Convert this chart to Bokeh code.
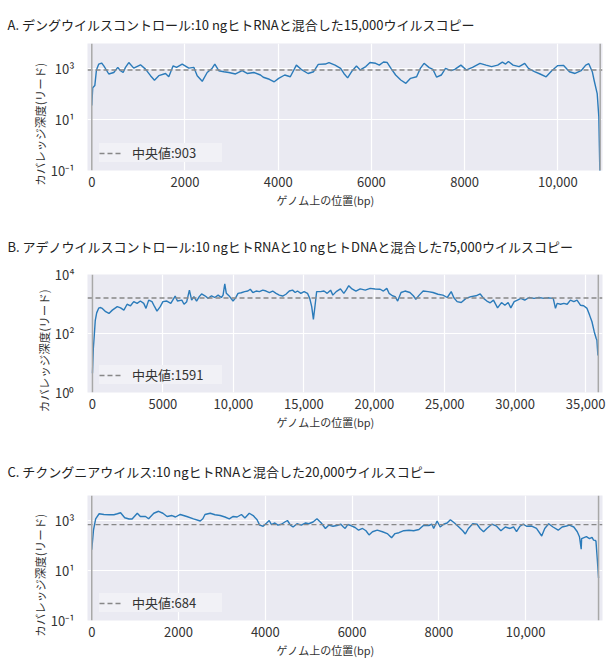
from bokeh.plotting import figure
from bokeh.models import FixedTicker, Span, Title, Legend, LegendItem, Range1d
from bokeh.layouts import column
from bokeh.embed import file_html
from bokeh.resources import INLINE

FONT = "Noto Sans CJK JP"

# ---------------- data ----------------
title_a = "A. デングウイルスコントロール:10 ngヒトRNAと混合した15,000ウイルスコピー"
title_b = "B. アデノウイルスコントロール:10 ngヒトRNAと10 ngヒトDNAと混合した75,000ウイルスコピー"
title_c = "C. チクングニアウイルス:10 ngヒトRNAと混合した20,000ウイルスコピー"
x_label = "ゲノム上の位置(bp)"
y_label = "カバレッジ深度(リード)"
median_label = "中央値"

a_pos = [0, 20, 65, 100, 150, 210, 258, 365, 472, 558, 616, 673, 723, 794, 900, 1045, 1152, 1260, 1345,
         1438, 1582, 1652, 1746, 1818, 1940, 2082, 2189, 2262, 2370, 2476, 2584, 2640, 2725, 2833, 2940,
         3084, 3227, 3335, 3476, 3620, 3680, 3810, 3915, 4010, 4140, 4260, 4390, 4510, 4640, 4760, 4860,
         5010, 5090, 5220, 5340, 5410, 5490, 5590, 5680, 5760, 5880, 5970, 6090, 6170, 6260, 6340, 6420,
         6520, 6630, 6740, 6840, 6970, 7050, 7130, 7240, 7320, 7400, 7500, 7590, 7710, 7790, 7920, 8040,
         8170, 8330, 8460, 8580, 8710, 8810, 8880, 8940, 9040, 9170, 9290, 9370, 9500, 9620, 9750, 9870,
         10000, 10120, 10250, 10370, 10500, 10600, 10665, 10740, 10780, 10845, 10880, 10905]
a_depth = [36, 180, 220, 900, 1550, 1700, 1320, 630, 720, 1150, 850, 720, 1150, 1780, 1070, 1450, 980, 540, 360,
           540, 660, 490, 1320, 1150, 1550, 1070, 1150, 540, 325, 720, 1070, 1550, 850, 775, 720,
           630, 850, 660, 720, 575, 470, 390, 310, 425, 575, 490, 1410, 910, 660, 775, 1510,
           1550, 1780, 1410, 1050, 660, 445, 850, 1290, 910, 1230, 1780, 1660, 1410, 1860, 1780, 1050,
           575, 365, 270, 425, 490, 1050, 1660, 1120, 955, 470, 575, 1050, 850, 955, 1410, 910,
           1150, 1660, 1410, 1230, 1410, 1860, 1550, 1950, 1410, 1230, 1660, 1050, 775, 630, 490, 850,
           1350, 1380, 775, 660, 850, 1410, 1600, 775, 350, 107, 13, 0.05]
a_median = 903
a_length = 10910

b_pos = [0, 60, 130, 200, 300, 440, 540, 700, 940, 1170, 1410, 1760, 1995, 2230, 2460, 2700, 2930, 3170,
         3400, 3640, 3800, 3990, 4225, 4410, 4580, 4810, 5000, 5280, 5560, 5870, 6030, 6340, 6500, 6690,
         6880, 7040, 7200, 7390, 7580, 7745, 7980, 8215, 8450, 8680, 8920, 9150, 9270, 9390, 9500, 9740,
         9975, 10160, 10330, 10560, 10800, 11030, 11200, 11380, 11620, 11850, 12090, 12320, 12560, 12790,
         13030, 13260, 13500, 13730, 13970, 14200, 14390, 14550, 14790, 15020, 15260, 15420, 15560, 15680,
         15800, 15910, 16190, 16430, 16660, 16900, 17060, 17300, 17600, 17840, 18000, 18190, 18420, 18700,
         19000, 19360, 19710, 20060, 20420, 20650, 20890, 21050, 21290, 21480, 21660, 21900, 22180, 22530,
         22770, 22950, 23190, 23470, 23820, 24170, 24520, 24870, 25180, 25460, 25650, 25880, 26170, 26510,
         26860, 27220, 27520, 27760, 27990, 28230, 28460, 28750, 29030, 29270, 29500, 29690, 29930, 30160,
         30400, 30680, 30990, 31340, 31690, 32040, 32400, 32700, 32860, 32980, 33220, 33450, 33690, 33920,
         34160, 34390, 34630, 34860, 35100, 35280, 35450, 35610, 35750, 35800, 35870]
b_depth = [4.5, 30, 87, 280, 500, 720, 760, 710, 550, 480, 620, 810, 740, 620, 980, 870, 1200, 1050,
           1260, 1050, 710, 1350, 1200, 810, 575, 810, 1200, 1260, 1050, 1860, 1260, 1350, 980, 1200,
           2950, 1350, 1780, 1260, 1780, 2190, 1900, 1550, 1900, 1660, 2000, 1660, 2000, 4800, 2300, 1780,
           1260, 1620, 2300, 2400, 2630, 2750, 3160, 2450, 2750, 2630, 2950, 2750, 2450, 2750,
           2300, 2000, 1860, 2140, 2750, 2950, 2450, 2750, 2300, 2630, 2300, 1550, 810, 300,
           910, 2630, 2630, 2750, 2300, 2950, 2000, 2630, 3240, 2300, 2950, 4170, 3240, 2750,
           3240, 2950, 3390, 3240, 3160, 2750, 3390, 2300, 1900, 1780, 1260, 2450, 2750, 2450,
           1900, 1450, 2000, 2750, 2630, 2450, 2140, 2000, 1660, 2630, 1620, 1200, 1120, 1550,
           1780, 1900, 2190, 1550, 1260, 1100, 1350, 740, 1120, 910, 1120, 740, 1200, 1350,
           1550, 1350, 1660, 1550, 1660, 1550, 1620, 1550, 710, 1050, 980, 1050, 980, 1350,
           1200, 1350, 910, 870, 710, 420, 250, 115, 68, 60, 18]
b_median = 1591
b_length = 35900

c_pos = [0, 40, 90, 170, 280, 400, 510, 590, 665, 760, 860, 930, 1050, 1120, 1240, 1310, 1430, 1540, 1640,
         1735, 1850, 1930, 2040, 2190, 2345, 2500, 2560, 2610, 2730, 2840, 2960, 3070, 3170, 3260, 3350,
         3450, 3530, 3630, 3720, 3810, 3870, 3950, 4030, 4090, 4140, 4220, 4290, 4370, 4450, 4510, 4580,
         4640, 4730, 4830, 4930, 5000, 5100, 5190, 5290, 5385, 5460, 5560, 5650, 5740, 5800, 5840, 5900,
         5970, 6070, 6150, 6240, 6320, 6390, 6470, 6580, 6700, 6810, 6910, 6990, 7080, 7190, 7310, 7420,
         7540, 7650, 7770, 7840, 7880, 7960, 8030, 8110, 8190, 8265, 8360, 8460, 8550, 8610, 8680, 8780,
         8880, 8950, 9030, 9105, 9220, 9330, 9430, 9530, 9640, 9720, 9790, 9870, 9945, 10020, 10140, 10250,
         10370, 10440, 10530, 10630, 10750, 10840, 10940, 11010, 11110, 11190, 11240, 11280, 11290, 11400,
         11470, 11530, 11565, 11600, 11620, 11650, 11680]
c_depth = [68, 410, 1170, 1860, 1740, 1700, 1700, 1860, 2040, 1290, 1150, 1150, 1950, 1450, 1450, 1170, 1950, 2340, 1950,
           1450, 1580, 1380, 1740, 1450, 1170, 955, 1170, 1740, 1950, 1700, 1580, 1380, 1170, 1450, 1380,
           1740, 1260, 1950, 1580, 1070, 650, 590, 795, 1000, 690, 795, 650, 710, 870, 1000, 650,
           550, 740, 650, 795, 740, 870, 1170, 795, 480, 650, 590, 630, 710, 550, 480, 690,
           630, 525, 410, 480, 390, 265, 355, 410, 355, 300, 205, 300, 325, 390, 410, 390,
           435, 650, 630, 710, 480, 955, 550, 710, 795, 1070, 795, 550, 390, 290, 480, 740,
           710, 480, 355, 480, 710, 590, 390, 550, 480, 550, 355, 590, 710, 590, 600, 480,
           240, 480, 740, 550, 410, 550, 600, 650, 550, 355, 225, 71, 190, 225,
           190, 210, 165, 160, 150, 30, 5]
c_median = 684
c_length = 11680

ticks_ac = [0, 2000, 4000, 6000, 8000, 10000]
labels_ac = ["0", "2000", "4000", "6000", "8000", "10,000"]
ticks_b = [0, 5000, 10000, 15000, 20000, 25000, 30000, 35000]
labels_b = ["0", "5000", "10,000", "15,000", "20,000", "25,000", "30,000", "35,000"]
yticks_ac = [0.1, 10, 1000]
ylabels_ac = ["10⁻¹", "10¹", "10³"]
yticks_b = [1, 100, 10000]
ylabels_b = ["10⁰", "10²", "10⁴"]

x_range_a = (-92, 10959)
x_range_b = (-352, 36197)
x_range_c = (-98, 11771)
y_range_ac = (0.1, 10000)
y_range_b = (1, 10000)

TXT = "#333333"
YPAD = "\u3000\u3000\u3000"   # ideographic spaces: nudge the centred vertical label downwards


def panel(title, pos, depth, median, length, xr, yr, xticks, xlabels, yticks, ylabels,
          frame_w, frame_h, b_top, b_bottom, b_right, t_standoff):
    p = figure(width=87 + frame_w + b_right, height=b_top + frame_h + b_bottom, y_axis_type="log",
               x_range=Range1d(*xr), y_range=Range1d(*yr),
               output_backend="svg", toolbar_location=None,
               min_border_left=87, min_border_right=b_right,
               min_border_top=b_top, min_border_bottom=b_bottom)
    p.background_fill_color = "#eaeaf2"
    p.border_fill_color = "white"
    p.outline_line_color = None

    p.title.text = title
    p.title.align = "left"
    p.title.offset = -80
    p.title.standoff = t_standoff
    p.title.text_font = FONT
    p.title.text_font_size = "13px"
    p.title.text_font_style = "normal"
    p.title.text_color = "#222222"

    for ax in (p.xaxis[0], p.yaxis[0]):
        ax.axis_line_color = None
        ax.major_tick_line_color = None
        ax.minor_tick_line_color = None
        ax.major_label_text_font = FONT
        ax.major_label_text_font_size = "13px"
        ax.major_label_text_color = TXT
    p.xaxis.ticker = FixedTicker(ticks=xticks)
    p.xaxis.major_label_overrides = dict(zip(xticks, xlabels))
    p.xaxis.major_label_standoff = 0
    p.yaxis.ticker = FixedTicker(ticks=yticks)
    p.yaxis.major_label_overrides = dict(zip(yticks, ylabels))
    p.yaxis.major_label_standoff = 7

    p.xgrid.grid_line_color = "white"
    p.ygrid.grid_line_color = "white"
    p.xgrid.grid_line_width = 1.2
    p.ygrid.grid_line_width = 1.2

    p.add_layout(Title(text=x_label, align="left", offset=189, standoff=0,
                       text_font=FONT, text_font_size="11px", text_font_style="normal",
                       text_color=TXT), "below")
    p.add_layout(Title(text=y_label + YPAD, align="center", standoff=0,
                       text_font=FONT, text_font_size="11.5px", text_font_style="normal",
                       text_color=TXT), "left")

    p.add_layout(Span(location=0, dimension="height", line_color="#a8a8a8", line_width=1.5))
    p.add_layout(Span(location=length, dimension="height", line_color="#a8a8a8", line_width=1.5))

    p.line(pos, depth, line_color="#2b7bba", line_width=1.4)
    med = p.line([xr[0], xr[1]], [median, median], line_color="#888888", line_width=1.4,
                 line_dash="5 3")

    legend = Legend(items=[LegendItem(label=f"{median_label}:{median}", renderers=[med])],
                    location=(12, 8), margin=0, padding=8, spacing=0, label_standoff=10,
                    glyph_width=23, glyph_height=18, label_height=18, label_width=90,
                    background_fill_color="#f1f1f6", background_fill_alpha=1.0,
                    border_line_color=None, label_text_font=FONT, label_text_font_size="13px",
                    label_text_color=TXT)
    p.add_layout(legend)
    return p


pa = panel(title_a, a_pos, a_depth, a_median, a_length, x_range_a, y_range_ac, ticks_ac, labels_ac,
           yticks_ac, ylabels_ac, 515, 127, 43, 40, 5, 19)
pb = panel(title_b, b_pos, b_depth, b_median, b_length, x_range_b, y_range_b, ticks_b, labels_b,
           yticks_b, ylabels_b, 519, 118, 64, 48, 1, 38)
pc = panel(title_c, c_pos, c_depth, c_median, c_length, x_range_c, y_range_ac, ticks_ac, labels_ac,
           yticks_ac, ylabels_ac, 518, 125, 55, 39, 2, 30)

layout = column(pa, pb, pc, spacing=0)
open("out.html", "w").write(file_html(layout, INLINE))
